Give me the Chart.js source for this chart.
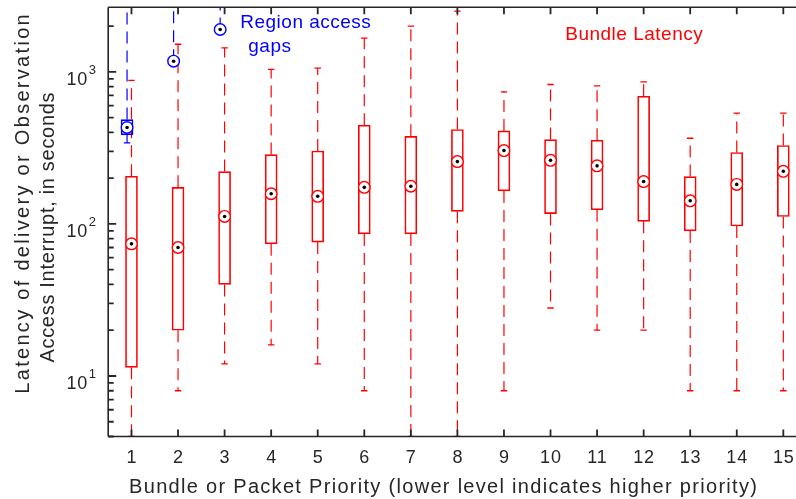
<!DOCTYPE html>
<html>
<head>
<meta charset="utf-8">
<script src="https://cdn.jsdelivr.net/npm/chart.js@4.4.1/dist/chart.umd.min.js"></script>
<style>
  html, body { margin: 0; padding: 0; background: #fff; overflow: hidden; width: 796px; height: 499px; }
  #wrap { position: relative; width: 820px; height: 499px; }
</style>
</head>
<body>
<div id="wrap"><canvas id="c" width="820" height="499"></canvas></div>
<script>
// Bundle latency per priority level (seconds): whisker ends, quartiles and medians
const priorities = [1, 2, 3, 4, 5, 6, 7, 8, 9, 10, 11, 12, 13, 14, 15];
const latencyMax    = [880, 1520, 1440, 1040, 1060, 1670, 2000, 2510, 740, 826, 809, 859, 366, 535, 535];
const latencyQ3     = [206, 174, 221, 286, 302, 446, 377, 418, 409, 359, 355, 692, 205, 295, 328];
const latencyMedian = [74, 70, 112, 158, 152, 174, 177, 257, 304, 262, 241, 190, 142, 182, 222];
const latencyQ1     = [11.4, 20, 40, 74, 76, 86, 86, 121, 165, 117, 124, 104, 90, 97, 112];
const latencyMin    = [4, 8, 12, 16, 12, 8, 4, 4, 8, 28, 20, 20, 8, 8, 8];

// Region access gaps (seconds) for the three highest priorities
const gapPriorities = [1, 2, 3];
const gapMax    = [8000, 8000, 8000];
const gapQ3     = [486, 1176, 1901];
const gapMedian = [431, 1176, 1901];
const gapQ1     = [385, 1176, 1901];
const gapMin    = [341, 1176, 1901];

// Axis ticks
const xTickLabels = ['1','2','3','4','5','6','7','8','9','10','11','12','13','14','15'];
const yMajorTicks = [10, 100, 1000];
const yMajorExponents = ['1', '2', '3'];

const Y_MIN = 4, Y_MAX = 2660;
const RED = '#ff0000', BLUE = '#0000ff', INK = '#262626';
const FONT = "'Liberation Sans', Arial, Helvetica, sans-serif";
const gapShift = -0.095;

function segments(xs, from, to, shift) {
  const pts = [];
  xs.forEach((x, i) => {
    if (from[i] === to[i]) return;
    pts.push({ x: x + shift, y: from[i] }, { x: x + shift, y: to[i] }, { x: x + shift, y: null });
  });
  return pts;
}
function points(xs, ys, shift) { return xs.map((x, i) => ({ x: x + shift, y: ys[i] })); }
function boxes(xs, lo, hi, shift) {
  return xs.map((x, i) => ({ x: x + shift, y: [lo[i], hi[i]] })).filter(d => d.y[1] > d.y[0]);
}

function boxSeries(xs, mx, q3, med, q1, mn, shift, color) {
  const whisker = { type: 'line', showLine: true, spanGaps: false, pointRadius: 0, borderColor: color,
                    borderWidth: 1.2, borderDash: [12, 7], fill: false, order: 5 };
  return [
    Object.assign({}, whisker, { data: segments(xs, q3, mx, shift) }),
    Object.assign({}, whisker, { data: segments(xs, q1, mn, shift) }),
    { type: 'bar', data: boxes(xs, q1, q3, shift), borderColor: color, backgroundColor: 'rgba(0,0,0,0)',
      borderWidth: 1, borderSkipped: false, barThickness: 12, grouped: false, order: 4 },
    { type: 'scatter', data: points(xs, mx, shift).filter(p => p.y < Y_MAX * 1.01), pointStyle: 'line',
      pointRadius: 3.2, borderColor: color, borderWidth: 1.3, order: 3 },
    { type: 'scatter', data: points(xs, mn, shift).filter((p, i) => mn[i] !== q1[i]), pointStyle: 'line',
      pointRadius: 3.2, borderColor: color, borderWidth: 1.3, order: 3 },
    { type: 'scatter', data: points(xs, med, shift), pointStyle: 'circle', pointRadius: 5.8,
      borderColor: color, backgroundColor: '#ffffff', borderWidth: 1.4, order: 2 },
    { type: 'scatter', data: points(xs, med, shift), pointStyle: 'circle', pointRadius: 1.8,
      borderColor: '#000', backgroundColor: '#000', borderWidth: 0, order: 1 }
  ];
}

const datasets = [].concat(
  boxSeries(priorities, latencyMax, latencyQ3, latencyMedian, latencyQ1, latencyMin, 0, RED),
  boxSeries(gapPriorities, gapMax, gapQ3, gapMedian, gapQ1, gapMin, gapShift, BLUE)
);

function spacedText(ctx, text, x, y, spacing) {
  ctx.letterSpacing = spacing + 'px';
  ctx.fillText(text, x + spacing / 2, y);
  ctx.letterSpacing = '0px';
}

// Frame, inward ticks and all axis text, positioned from the chart's scales
const axesPlugin = {
  id: 'matlabAxes',
  afterDatasetsDraw(chart) {
    const { ctx, chartArea: a, scales: { x, y } } = chart;
    ctx.save();
    ctx.strokeStyle = INK;
    ctx.lineWidth = 1.6;
    ctx.beginPath();
    ctx.moveTo(a.left, a.top); ctx.lineTo(a.right, a.top);
    ctx.moveTo(a.left, a.top); ctx.lineTo(a.left, a.bottom);
    ctx.moveTo(a.left, a.bottom); ctx.lineTo(a.right, a.bottom);
    ctx.stroke();

    // x ticks (bottom and top)
    ctx.lineWidth = 1.8;
    ctx.beginPath();
    priorities.forEach(p => {
      const px = x.getPixelForValue(p);
      ctx.moveTo(px, a.bottom); ctx.lineTo(px, a.bottom - 7);
      ctx.moveTo(px, a.top); ctx.lineTo(px, a.top + 7);
    });
    // y ticks, major and minor
    for (let d = 1; d <= 1000; d *= 10) {
      for (let m = 1; m <= 9; m++) {
        const v = d * m;
        if (v < Y_MIN || v > Y_MAX) continue;
        const py = y.getPixelForValue(v);
        ctx.moveTo(a.left, py); ctx.lineTo(a.left + (m === 1 ? 8 : 5.5), py);
      }
    }
    ctx.stroke();

    ctx.fillStyle = INK;
    ctx.textBaseline = 'alphabetic';
    // x tick labels
    ctx.font = '18px ' + FONT;
    ctx.textAlign = 'center';
    priorities.forEach((p, i) => spacedText(ctx, xTickLabels[i], x.getPixelForValue(p), 463, 0.8));
    // y tick labels as 10 with a raised exponent
    yMajorTicks.forEach((v, i) => {
      const py = y.getPixelForValue(v);
      ctx.font = '13px ' + FONT;
      ctx.textAlign = 'right';
      const expW = ctx.measureText(yMajorExponents[i]).width;
      ctx.fillText(yMajorExponents[i], 96, py + 2);
      ctx.font = '18px ' + FONT;
      spacedText(ctx, '10', 96 - expW - 1, py + 13, 0.8);
    });
    // axis titles
    ctx.font = '20px ' + FONT;
    ctx.textAlign = 'center';
    spacedText(ctx, 'Bundle or Packet Priority (lower level indicates higher priority)', 443, 493, 1.3);
    ctx.save();
    ctx.translate(29, 204);
    ctx.rotate(-Math.PI / 2);
    spacedText(ctx, 'Latency of delivery or Observation', 0, 0, 2.3);
    ctx.restore();
    ctx.save();
    ctx.translate(54, 227.5);
    ctx.rotate(-Math.PI / 2);
    spacedText(ctx, 'Access Interrupt, in seconds', 0, 0, 0.7);
    ctx.restore();

    // series annotations
    ctx.font = '19px ' + FONT;
    ctx.textAlign = 'left';
    ctx.fillStyle = BLUE;
    spacedText(ctx, 'Region access', 240, 28, 0.5);
    spacedText(ctx, 'gaps', 248, 52, 0.5);
    ctx.fillStyle = RED;
    spacedText(ctx, 'Bundle Latency', 565, 40, 0.5);
    ctx.restore();
  }
};

new Chart(document.getElementById('c'), {
  type: 'bar',
  data: { datasets },
  options: {
    responsive: false,
    animation: false,
    events: [],
    layout: { padding: { left: 108.2, right: 820 - 806.6, top: 7.3, bottom: 499 - 436.5 } },
    plugins: { legend: { display: false }, tooltip: { enabled: false } },
    scales: {
      x: { type: 'linear', min: 0.5, max: 15.5, offset: false, display: false },
      y: { type: 'logarithmic', min: Y_MIN, max: Y_MAX, display: false }
    }
  },
  plugins: [axesPlugin]
});
</script>
</body>
</html>
